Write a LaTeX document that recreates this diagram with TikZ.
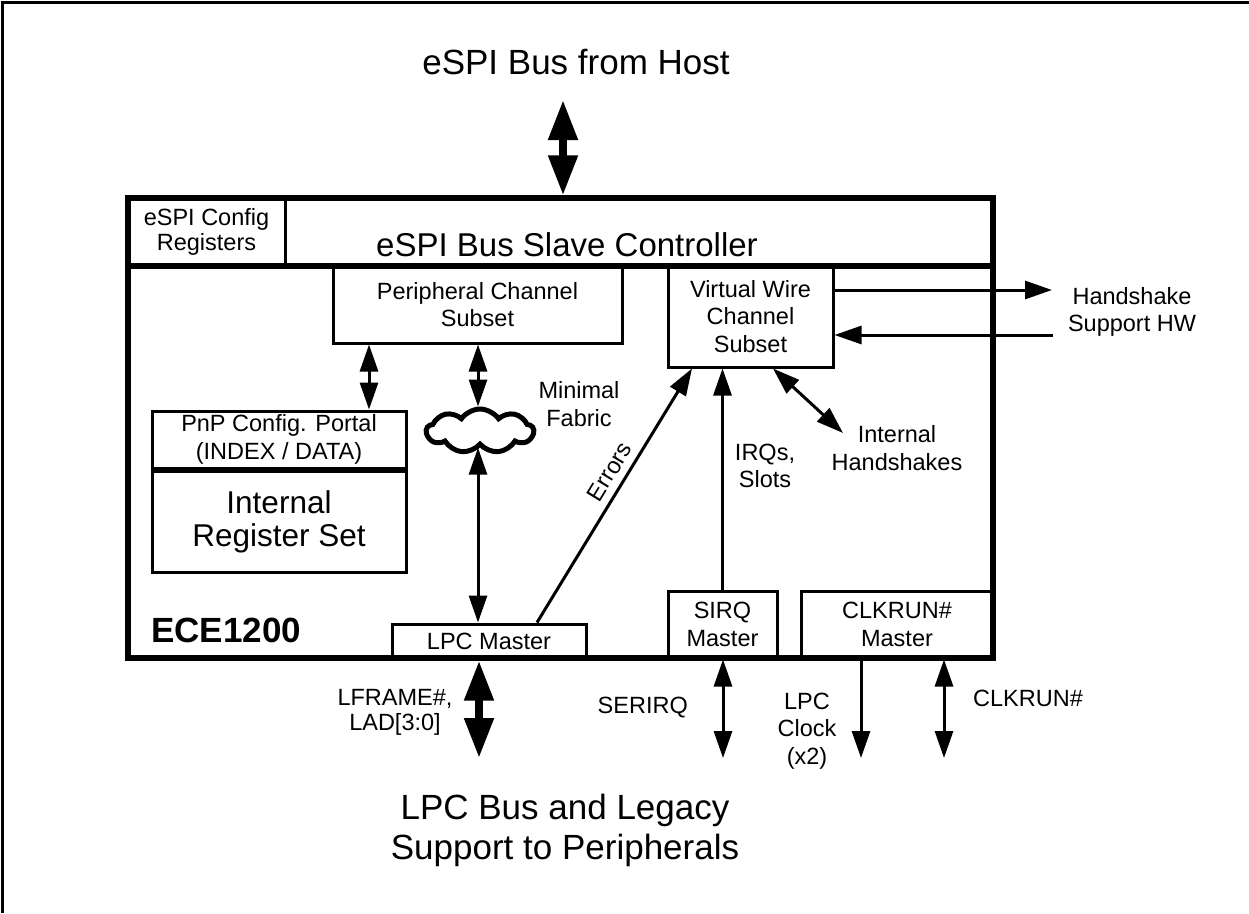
\documentclass[tikz,border=0pt]{standalone}
\usepackage{fontspec}
\setmainfont{Liberation Sans}
\usetikzlibrary{arrows.meta, shapes.symbols, positioning}

\begin{document}
\begin{tikzpicture}[x=1pt, y=-1pt,
 box/.style={draw, line width=3pt, align=center, inner sep=0pt,
   font=\fontsize{23.5}{27.5}\selectfont},
 lbl/.style={align=center, inner sep=0pt, font=\fontsize{23.5}{27.5}\selectfont},
 big/.style={align=center, inner sep=0pt, font=\fontsize{35}{40}\selectfont},
 sig/.style={line width=3pt, -{Triangle[length=27pt,width=18pt]}},
 sigs/.style={line width=3pt, {Triangle[length=27pt,width=18pt]}-{Triangle[length=27pt,width=18pt]}},
 bus/.style={line width=8pt, {Triangle[length=40pt,width=28pt]}-{Triangle[length=40pt,width=28pt]}}]

  \useasboundingbox (0,0) rectangle (1249,913);
  \draw[line width=3pt] (2,913) -- (2,2) -- (1249,2);

  % the chip and its header row
  \node[draw, line width=5.3pt, minimum width=865pt, minimum height=460pt, inner sep=0pt] (chip) at (560.5,428) {};
  \draw[line width=5.3pt] (chip.west |- 0,266) -- (chip.east |- 0,266);
  \draw[line width=3pt] (285,198) -- (285,266);
  \node[lbl, font=\fontsize{23.5}{25}\selectfont] (cfg) at (206.5,232) {eSPI Config\\Registers};
  \node[big, font=\fontsize{33}{38}\selectfont] (slave) at (567,245) {eSPI Bus Slave Controller};

  % blocks
  \node[box, minimum width=289pt, minimum height=77pt] (pcs) at (477.5,304.5) {Peripheral Channel\\Subset};
  \node[box, minimum width=165pt, minimum height=101pt] (vw) at (750.5,316.5) {Virtual Wire\\Channel\\Subset};
  \node[box, minimum width=254pt, minimum height=57pt, font=\fontsize{23.5}{28}\selectfont] (pnp) at (279,439.5) {PnP Config. Portal\\(INDEX / DATA)};
  \node[box, minimum width=254pt, minimum height=101pt, font=\fontsize{31.5}{33}\selectfont, below=0pt of pnp] (regs) {Internal\\Register Set};
  \node[cloud, draw, line width=5pt, cloud puffs=9, cloud puff arc=110, aspect=2.4, inner sep=0pt, minimum width=107pt, minimum height=44pt] (fab) at (480,431) {};
  \node[box, minimum width=194pt, minimum height=34pt] (lpc) at (489,641) {LPC Master};
  \node[box, minimum width=109pt, minimum height=67pt] (sirq) at (722.5,624.5) {SIRQ\\Master};
  \node[box, minimum width=192pt, minimum height=67pt] (ckm) at (897,624.5) {CLKRUN\#\\Master};
  \node[big, font=\bfseries\fontsize{35}{40}\selectfont, anchor=west] (name) at (151,630) {ECE1200};

  % labels
  \node[big] (host) at (576,62) {eSPI Bus from Host};
  \node[lbl] (fabl) at (579,404) {Minimal\\Fabric};
  \node[lbl] (irql) at (765,466) {IRQs,\\Slots};
  \node[lbl] (ihl) at (897,448) {Internal\\Handshakes};
  \node[lbl] (hsw) at (1132,312) {Handshake\\Support HW};
  \node[lbl, font=\fontsize{23.5}{25}\selectfont] (lad) at (395,712) {LFRAME\#,\\LAD[3:0]};
  \node[lbl, anchor=east] (serl) at (688,708) {SERIRQ};
  \node[lbl] (clkl) at (807,731) {LPC\\Clock\\(x2)};
  \node[lbl, anchor=west] (ckrl) at (973,698) {CLKRUN\#};
  \node[big] (legacy) at (565,830) {LPC Bus and Legacy\\Support to Peripherals};

  % free ends
  \coordinate (hostbus) at (563,100);
  \coordinate (ihs) at (843,433);
  \coordinate (hout) at (1052,290);
  \coordinate (hin) at (1053,335);
  \coordinate (lpcbus) at (479,758);
  \coordinate (serirq) at (723,758);
  \coordinate (lclk) at (861,758);
  \coordinate (ckrun) at (944,758);

  % connectors
  \draw[bus] (hostbus) -- (chip.north -| hostbus);
  \draw[bus] (chip.south -| lpcbus) -- (lpcbus);
  \draw[sigs] (pcs.south -| 369,0) -- (pnp.north -| 369,0);
  \draw[sigs] (pcs.south -| 478,0) -- (fab.north -| 478,0);
  \draw[sigs] (fab.south -| 478,0) -- (lpc.north -| 478,0);
  \draw[sig] (lpc.north -| 537,0) -- (vw.south -| 692,0)
    node[lbl, pos=0.56, sloped, above=7pt] {Errors};
  \draw[sig] (sirq) -- (sirq |- vw.south);
  \draw[sigs] (vw.south -| 773,0) -- (ihs);
  \draw[sig] (vw.east |- hout) -- (hout);
  \draw[sig] (hin) -- (vw.east |- hin);
  \foreach \s/\t in {sirq/serirq, ckm/ckrun}
    \draw[sigs] (\s.south -| \t) -- (\t);
  \draw[sig] (ckm.south -| lclk) -- (lclk);
\end{tikzpicture}
\end{document}
